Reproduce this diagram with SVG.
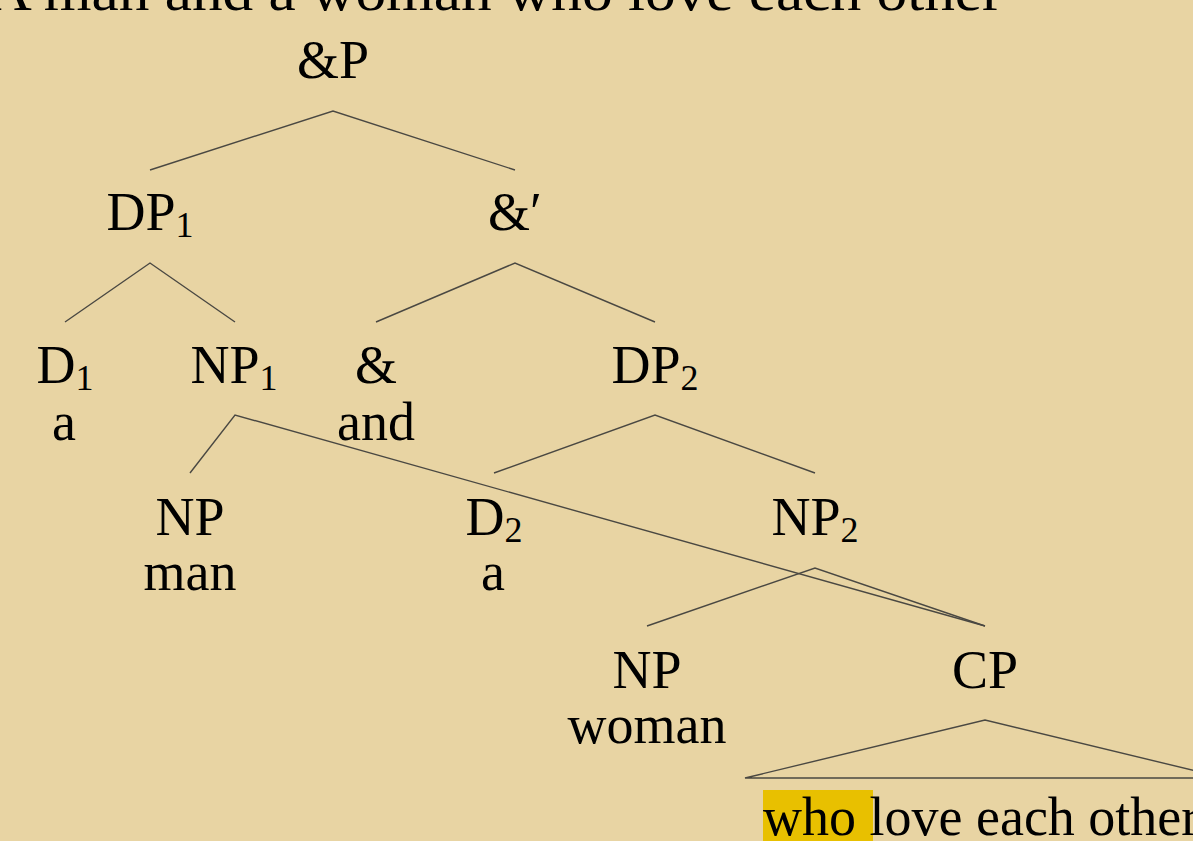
<svg xmlns="http://www.w3.org/2000/svg" width="1193" height="841" viewBox="0 0 1193 841">
  <style>
    .lbl { font-family: "Liberation Serif", "Times New Roman", serif; font-size: 54px; fill: #000; text-anchor: middle; }
    .sub { font-size: 36px; }
    .edge { stroke: #4a4842; stroke-width: 1.4; fill: none; }
  </style>
  <rect width="1193" height="841" fill="#E8D4A3"/>

  <!-- heading, partly cut off at the top edge -->
  <text class="lbl" x="495" y="10" textLength="1015" lengthAdjust="spacingAndGlyphs">A man and a woman who love each other</text>

  <!-- tree branches -->
  <g id="connectors">
    <polyline class="edge" points="150,170 333,111 515,170"/>
    <polyline class="edge" points="65,322 150,263 235,322"/>
    <polyline class="edge" points="376,322 515,263 655,322"/>
    <polyline class="edge" points="190,473 235,415 985,626"/>
    <polyline class="edge" points="494,473 655,415 815,473"/>
    <polyline class="edge" points="647,626 815,568 985,626"/>
    <polygon class="edge" points="745,778 985,720 1225,778"/>
  </g>

  <g id="andP"><text class="lbl" x="333" y="78">&amp;P</text></g>
  <g id="DP1"><text class="lbl" x="150" y="230">DP<tspan class="sub" dy="7">1</tspan></text></g>
  <g id="andBar"><text class="lbl" x="515" y="230">&amp;′</text></g>
  <g id="D1">
    <text class="lbl" x="65" y="383">D<tspan class="sub" dy="7">1</tspan></text>
    <text class="lbl" x="64" y="440">a</text>
  </g>
  <g id="NP1"><text class="lbl" x="234" y="383">NP<tspan class="sub" dy="7">1</tspan></text></g>
  <g id="and">
    <text class="lbl" x="376" y="383">&amp;</text>
    <text class="lbl" x="376" y="440">and</text>
  </g>
  <g id="DP2"><text class="lbl" x="655" y="383">DP<tspan class="sub" dy="7">2</tspan></text></g>
  <g id="NPman">
    <text class="lbl" x="190" y="535">NP</text>
    <text class="lbl" x="190" y="590">man</text>
  </g>
  <g id="D2">
    <text class="lbl" x="494" y="535">D<tspan class="sub" dy="7">2</tspan></text>
    <text class="lbl" x="493" y="590">a</text>
  </g>
  <g id="NP2"><text class="lbl" x="815" y="535">NP<tspan class="sub" dy="7">2</tspan></text></g>
  <g id="NPwoman">
    <text class="lbl" x="647" y="688">NP</text>
    <text class="lbl" x="647" y="743">woman</text>
  </g>
  <g id="CP">
    <text class="lbl" x="985" y="688">CP</text>
    <rect x="763" y="790" width="110" height="51" fill="#E8C000"/>
    <text class="lbl" x="763" y="835" style="text-anchor:start">who love each other</text>
  </g>
</svg>
